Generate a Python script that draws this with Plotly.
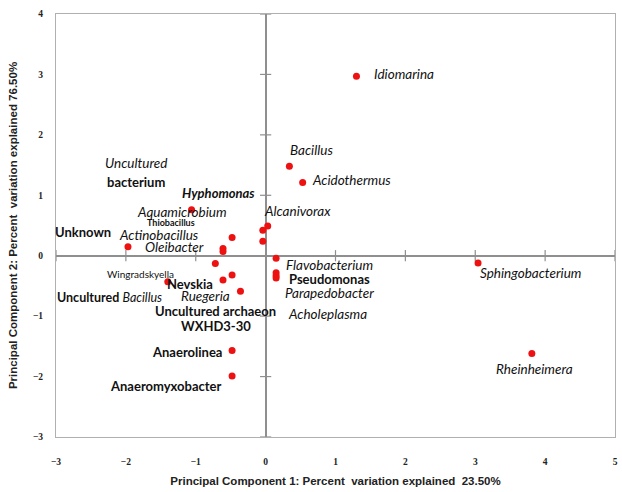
import plotly.graph_objects as go

# PCA scores of the genera (PC1, PC2)
pc1 = [1.30, 0.34, 0.53, 0.03, -0.04, -0.04, 0.15, 0.15, 0.15, 0.15,
       3.04, 3.81, -1.06, -1.97, -0.48, -0.61, -0.61, -0.72, -0.48,
       -0.61, -0.36, -1.40, -0.48, -0.48]
pc2 = [2.97, 1.48, 1.21, 0.49, 0.42, 0.24, -0.04, -0.28, -0.33, -0.37,
       -0.12, -1.62, 0.76, 0.15, 0.30, 0.12, 0.07, -0.13, -0.32,
       -0.40, -0.59, -0.43, -1.57, -1.99]

# Axis ticks
x_ticks = [-3, -2, -1, 0, 1, 2, 3, 4, 5]
y_ticks = [-3, -2, -1, 0, 1, 2, 3, 4]

# Genus labels: text, style, anchor position in PC space
label_text = ["Idiomarina", "Bacillus", "Acidothermus", "Alcanivorax",
              "Flavobacterium", "Pseudomonas", "Parapedobacter", "Acholeplasma",
              "Sphingobacterium", "Rheinheimera", "Uncultured", "bacterium",
              "Hyphomonas", "Aquamicrobium", "Thiobacillus", "Unknown",
              "Actinobacillus", "Oleibacter", "Wingradskyella", "Nevskia",
              "Uncultured Bacillus", "Ruegeria", "Uncultured archaeon",
              "WXHD3-30", "Anaerolinea", "Anaeromyxobacter"]
label_style = ["i", "i", "i", "i", "i", "b", "i", "i", "i", "i", "i", "b",
               "bi", "i", "bs", "b", "i", "i", "s", "b", "bB", "i", "b", "b",
               "b", "b"]
label_x = [1.98, 0.65, 1.23, 0.46, 0.92, 0.92, 0.92, 0.89, 3.79, 3.85,
           -1.85, -1.85, -0.68, -1.19, -1.35, -2.62, -1.53, -1.30, -1.79,
           -1.08, -2.23, -0.86, -0.72, -0.71, -1.12, -1.42]
label_y = [3.00, 1.75, 1.25, 0.74, -0.16, -0.38, -0.62, -0.96, -0.29, -1.87,
           1.53, 1.22, 1.03, 0.72, 0.55, 0.39, 0.34, 0.14, -0.30, -0.46,
           -0.69, -0.66, -0.91, -1.17, -1.60, -2.15]

LABEL_FONT = "Lato"
AXIS_GRAY = "#8f8f8f"


def fmt(text, style):
    if style == "bB":
        first, second = text.split(" ")
        return f"<b>{first}</b> <i>{second}</i>", 12.5
    if style == "bi":
        return f"<b><i>{text}</i></b>", 13
    if style == "b":
        return f"<b>{text}</b>", 13
    if style == "bs":
        return f"<b>{text}</b>", 9
    if style == "s":
        return text, 10
    return f"<i>{text}</i>", 13.5


fig = go.Figure()

# tick marks crossing the zero lines
fig.add_trace(go.Scatter(
    x=[0] * len(y_ticks), y=y_ticks, mode="markers",
    marker=dict(symbol="line-ew", size=8, line=dict(color=AXIS_GRAY, width=1.2)),
    hoverinfo="skip", showlegend=False))
fig.add_trace(go.Scatter(
    x=x_ticks, y=[0] * len(x_ticks), mode="markers",
    marker=dict(symbol="line-ns", size=8, line=dict(color=AXIS_GRAY, width=1.2)),
    hoverinfo="skip", showlegend=False))

fig.add_trace(go.Scatter(
    x=pc1, y=pc2, mode="markers",
    marker=dict(color="#ee1111", size=7, line=dict(width=0)),
    showlegend=False))

for t, s, lx, ly in zip(label_text, label_style, label_x, label_y):
    txt, size = fmt(t, s)
    fig.add_annotation(x=lx, y=ly, xref="x", yref="y", text=txt,
                       showarrow=False, xanchor="center", yanchor="middle",
                       font=dict(family=LABEL_FONT, size=size, color="#111111"))

tick_font = dict(family="Liberation Serif", size=9.5, color="#222222", weight="bold")
title_font = dict(family="Liberation Sans", size=11.5, color="#222222", weight="bold")

fig.update_layout(
    width=622, height=492,
    margin=dict(l=56, r=4, t=14, b=55),
    paper_bgcolor="white", plot_bgcolor="white",
    xaxis=dict(range=[-3, 5], tickvals=x_ticks, showgrid=False,
               zeroline=True, zerolinecolor=AXIS_GRAY, zerolinewidth=1.5,
               showline=True, mirror=True, linecolor="#b0b0b0", linewidth=1,
               ticks="", tickfont=tick_font, ticklabelstandoff=16,
               title=dict(text="Principal Component 1: Percent  variation explained  23.50%",
                          font=title_font, standoff=10)),
    yaxis=dict(range=[-3, 4], tickvals=y_ticks, showgrid=False,
               zeroline=True, zerolinecolor=AXIS_GRAY, zerolinewidth=1.5,
               showline=True, mirror=True, linecolor="#b0b0b0", linewidth=1,
               ticks="", tickfont=tick_font, ticklabelstandoff=10,
               title=dict(text="Principal Component 2: Percent  variation explained 76.50%",
                          font=title_font, standoff=12)),
)

fig.write_html("out.html")
